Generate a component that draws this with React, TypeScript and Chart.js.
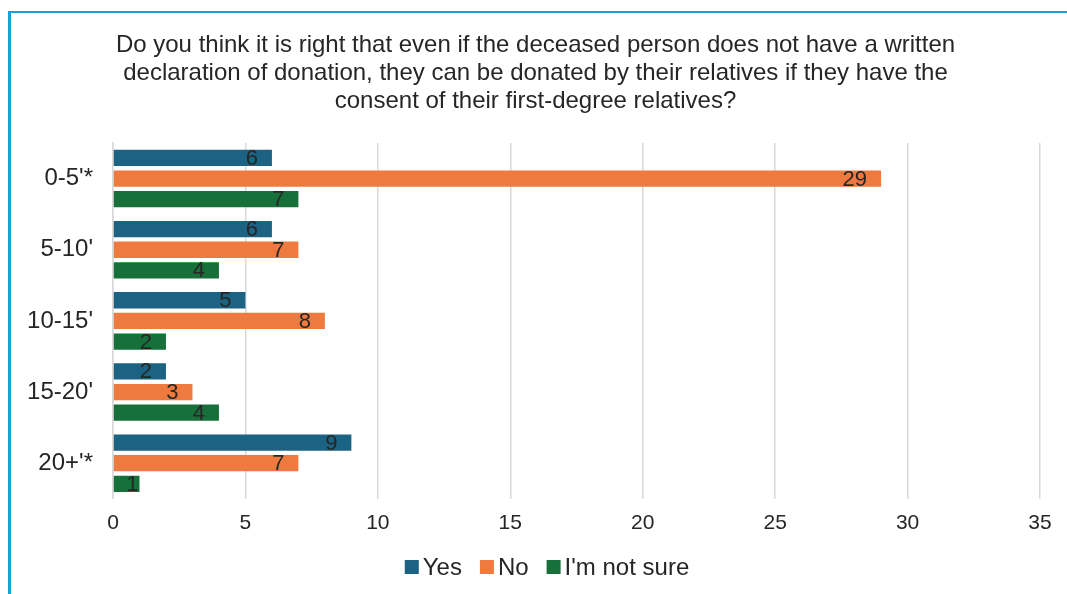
import React, { useEffect, useRef } from "react";
import { Chart, registerables } from "chart.js";

Chart.register(...registerables);

const TITLE_LINES = [
  "Do you think it is right that even if the deceased person does not have a written",
  "declaration of donation, they can be donated by their relatives if they have the",
  "consent of their first-degree relatives?",
];
const CATEGORIES = ["0-5'*", "5-10'", "10-15'", "15-20'", "20+'*"];
const YES = [6, 6, 5, 2, 9];
const NO = [29, 7, 8, 3, 7];
const NOT_SURE = [7, 4, 2, 4, 1];
const SERIES_NAMES = ["Yes", "No", "I'm not sure"];
const COLORS = ["#1c6283", "#ef7a3f", "#17703a"];
const X_MAX = 35;
const X_STEP = 5;

const FONT = "'Liberation Sans', Arial, sans-serif";
const TEXT_COLOR = "#262626";

const titlePlugin = {
  id: "customTitle",
  afterDraw(chart: any) {
    const ctx = chart.ctx;
    ctx.save();
    ctx.font = `24px ${FONT}`;
    ctx.fillStyle = TEXT_COLOR;
    ctx.textAlign = "center";
    ctx.textBaseline = "middle";
    const lh = 27.6;
    TITLE_LINES.forEach((line, i) => {
      ctx.fillText(line, 535.5, 45.8 + i * lh);
    });
    ctx.restore();
  },
};

const labelPlugin = {
  id: "barValueLabels",
  afterDatasetsDraw(chart: any) {
    const ctx = chart.ctx;
    ctx.save();
    ctx.font = `22px ${FONT}`;
    ctx.fillStyle = TEXT_COLOR;
    ctx.textAlign = "right";
    ctx.textBaseline = "middle";
    chart.data.datasets.forEach((ds: any, di: number) => {
      const meta = chart.getDatasetMeta(di);
      meta.data.forEach((el: any, i: number) => {
        const len = el.x - el.base;
        const x = len < 40 ? el.x - 1 : el.x - 14;
        ctx.fillText(String(ds.data[i]), x, el.y + 1);
      });
    });
    ctx.restore();
  },
};

const legendPlugin = {
  id: "customLegend",
  afterDraw(chart: any) {
    const ctx = chart.ctx;
    ctx.save();
    ctx.font = `24px ${FONT}`;
    ctx.textBaseline = "middle";
    ctx.textAlign = "left";
    const box = 14;
    const gapBoxText = 4;
    const gapItems = 18;
    const widths = SERIES_NAMES.map((n) => box + gapBoxText + ctx.measureText(n).width);
    const total = widths.reduce((a, b) => a + b, 0) + gapItems * (SERIES_NAMES.length - 1);
    let x = 547 - total / 2;
    const y = 567;
    SERIES_NAMES.forEach((n, i) => {
      ctx.fillStyle = COLORS[i];
      ctx.fillRect(x, y - box / 2, box, box);
      ctx.fillStyle = TEXT_COLOR;
      ctx.fillText(n, x + box + gapBoxText, y + 1);
      x += widths[i] + gapItems;
    });
    ctx.restore();
  },
};

export default function App() {
  const canvasRef = useRef<HTMLCanvasElement | null>(null);

  useEffect(() => {
    if (!canvasRef.current) return;
    const chart = new Chart(canvasRef.current, {
      type: "bar",
      data: {
        labels: CATEGORIES,
        datasets: [
          { label: SERIES_NAMES[0], data: YES, backgroundColor: COLORS[0] },
          { label: SERIES_NAMES[1], data: NO, backgroundColor: COLORS[1] },
          { label: SERIES_NAMES[2], data: NOT_SURE, backgroundColor: COLORS[2] },
        ],
      },
      options: {
        indexAxis: "y",
        animation: false,
        responsive: false,
        maintainAspectRatio: false,
        datasets: {
          bar: { categoryPercentage: 0.87, barPercentage: 0.79 },
        },
        layout: { padding: { left: 12, right: 27, top: 143, bottom: 46 } },
        plugins: {
          legend: { display: false },
          tooltip: { enabled: false },
          title: { display: false },
        },
        scales: {
          x: {
            min: 0,
            max: X_MAX,
            ticks: {
              stepSize: X_STEP,
              color: TEXT_COLOR,
              font: { family: FONT, size: 21 },
              padding: 12,
            },
            grid: { color: "#d9d9d9", lineWidth: 1.5, drawTicks: false },
            border: { display: false },
          },
          y: {
            afterFit: (scale: any) => {
              scale.width = 101;
            },
            ticks: {
              color: TEXT_COLOR,
              font: { family: FONT, size: 24 },
              padding: 20,
            },
            grid: { display: false, drawTicks: false },
            border: { display: true, color: "#d9d9d9", width: 1.5 },
          },
        },
      },
      plugins: [labelPlugin, legendPlugin, titlePlugin],
    });
    return () => chart.destroy();
  }, []);

  return (
    <div style={{ position: "fixed", left: 0, top: 0, width: 1067, height: 594, background: "#fff", overflow: "hidden" }}>
      <canvas ref={canvasRef} width={1067} height={594} style={{ position: "absolute", left: 0, top: 0 }} />
      <div
        style={{
          position: "absolute",
          left: 8,
          top: 11,
          width: 1100,
          height: 700,
          borderTop: "2px solid #1ba1d8",
          borderLeft: "3px solid #1ba1d8",
          pointerEvents: "none",
        }}
      />
    </div>
  );
}
